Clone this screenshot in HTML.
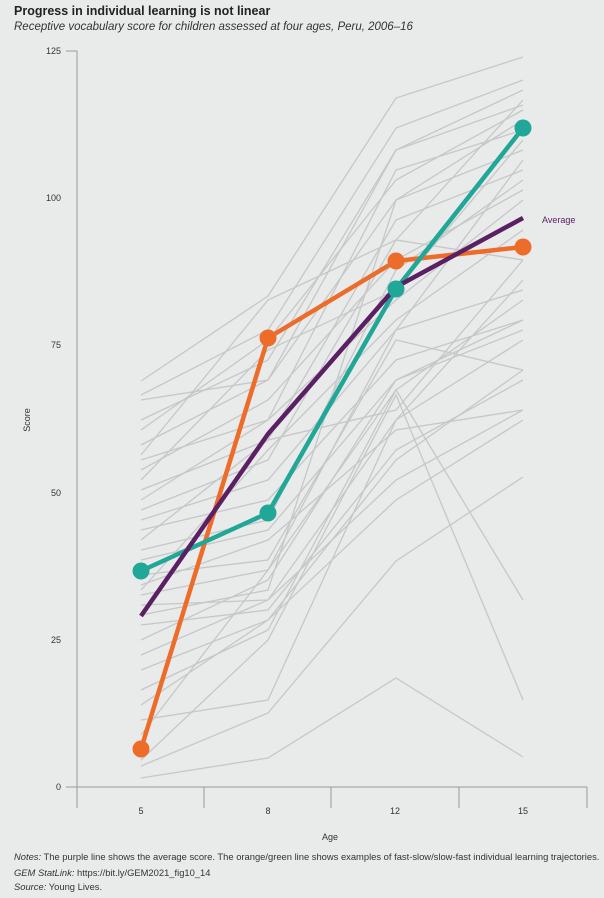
<!DOCTYPE html>
<html><head><meta charset="utf-8"><style>
body{margin:0;background:#e9ebea;font-family:"Liberation Sans",sans-serif;}
svg{display:block}
</style></head><body>
<svg width="604" height="898" viewBox="0 0 604 898" xmlns="http://www.w3.org/2000/svg">
<rect width="604" height="898" fill="#e9ebea"/>
<text x="14" y="15" font-size="12.5" font-weight="bold" fill="#222">Progress in individual learning is not linear</text>
<text x="14" y="30" font-size="11.5" font-style="italic" fill="#333">Receptive vocabulary score for children assessed at four ages, Peru, 2006–16</text>
<g font-size="9" fill="#333" text-anchor="end">
<text x="61" y="54">125</text><text x="61" y="201">100</text><text x="61" y="348">75</text><text x="61" y="496">50</text><text x="61" y="643">25</text><text x="61" y="790">0</text>
</g>
<g stroke="#999" stroke-width="1" fill="none">
<path d="M66 51H77V787M66 787H587M77 787V808M204 787V808M331 787V808M459 787V808M587 787V808"/>
</g>
<g font-size="9" fill="#333" text-anchor="middle">
<text x="141" y="814">5</text><text x="268" y="814">8</text><text x="395" y="814">12</text><text x="523" y="814">15</text>
<text x="330" y="840">Age</text>
<text x="30" y="420" transform="rotate(-90 30 420)">Score</text>
</g>
<g stroke="#c5c7c8" stroke-width="1.3" fill="none">
<polyline points="141,778 268,758 396,678 523,757"/>
<polyline points="141,766 268,713 396,561 523,477"/>
<polyline points="141,760 268,640 396,395 523,700"/>
<polyline points="141,381 268,296 396,98 523,57"/>
<polyline points="141,395 268,330 396,128 523,80"/>
<polyline points="141,420 268,360 396,150 523,90"/>
<polyline points="141,430 268,340 396,180 523,110"/>
<polyline points="141,445 268,380 396,200 523,150"/>
<polyline points="141,455 268,300 396,240 523,100"/>
<polyline points="141,460 268,420 396,170 523,130"/>
<polyline points="141,470 268,400 396,260 523,190"/>
<polyline points="141,480 268,350 396,290 523,140"/>
<polyline points="141,490 268,440 396,220 523,170"/>
<polyline points="141,500 268,420 396,300 523,200"/>
<polyline points="141,510 268,460 396,240 523,260"/>
<polyline points="141,520 268,480 396,330 523,290"/>
<polyline points="141,530 268,500 396,360 523,320"/>
<polyline points="141,540 268,440 396,410 523,260"/>
<polyline points="141,550 268,520 396,270 523,180"/>
<polyline points="141,560 268,530 396,380 523,330"/>
<polyline points="141,575 268,560 396,340 523,370"/>
<polyline points="141,585 268,540 396,430 523,410"/>
<polyline points="141,595 268,570 396,390 523,300"/>
<polyline points="141,605 268,600 396,420 523,340"/>
<polyline points="141,615 268,590 396,200 523,120"/>
<polyline points="141,625 268,610 396,450 523,380"/>
<polyline points="141,640 268,580 396,380 523,320"/>
<polyline points="141,655 268,600 396,480 523,410"/>
<polyline points="141,670 268,620 396,500 523,420"/>
<polyline points="141,690 268,630 396,390 523,600"/>
<polyline points="141,705 268,620 396,460 523,370"/>
<polyline points="141,720 268,700 396,420 523,280"/>
<polyline points="141,735 268,570 396,330 523,160"/>
<polyline points="141,400 268,380 396,150 523,105"/>
<polyline points="141,590 268,450 396,320 523,230"/>
</g>
<polyline points="141,749 268,338 396,261 523,247" fill="none" stroke="#ee6c2a" stroke-width="4.5" stroke-linejoin="round"/>
<polyline points="141,571 268,513 396,289 523,128" fill="none" stroke="#21a797" stroke-width="4.5" stroke-linejoin="round"/>
<polyline points="141,616 268,434 396,287 523,218" fill="none" stroke="#5b2063" stroke-width="4.5" stroke-linejoin="round"/>
<g fill="#ee6c2a"><circle cx="141" cy="749" r="8.5"/><circle cx="268" cy="338" r="8.5"/><circle cx="396" cy="261" r="8.5"/><circle cx="523" cy="247" r="8.5"/></g>
<g fill="#21a797"><circle cx="141" cy="571" r="8.5"/><circle cx="268" cy="513" r="8.5"/><circle cx="396" cy="289" r="8.5"/><circle cx="523" cy="128" r="8.5"/></g>
<text x="542" y="223" font-size="9" fill="#5b2063">Average</text>
<g font-size="9.4" fill="#333">
<text x="14" y="860"><tspan font-style="italic">Notes:</tspan> The purple line shows the average score. The orange/green line shows examples of fast-slow/slow-fast individual learning trajectories.</text>
<text x="14" y="876"><tspan font-style="italic">GEM StatLink:</tspan> https://bit.ly/GEM2021_fig10_14</text>
<text x="14" y="890"><tspan font-style="italic">Source:</tspan> Young Lives.</text>
</g>
</svg>
</body></html>
